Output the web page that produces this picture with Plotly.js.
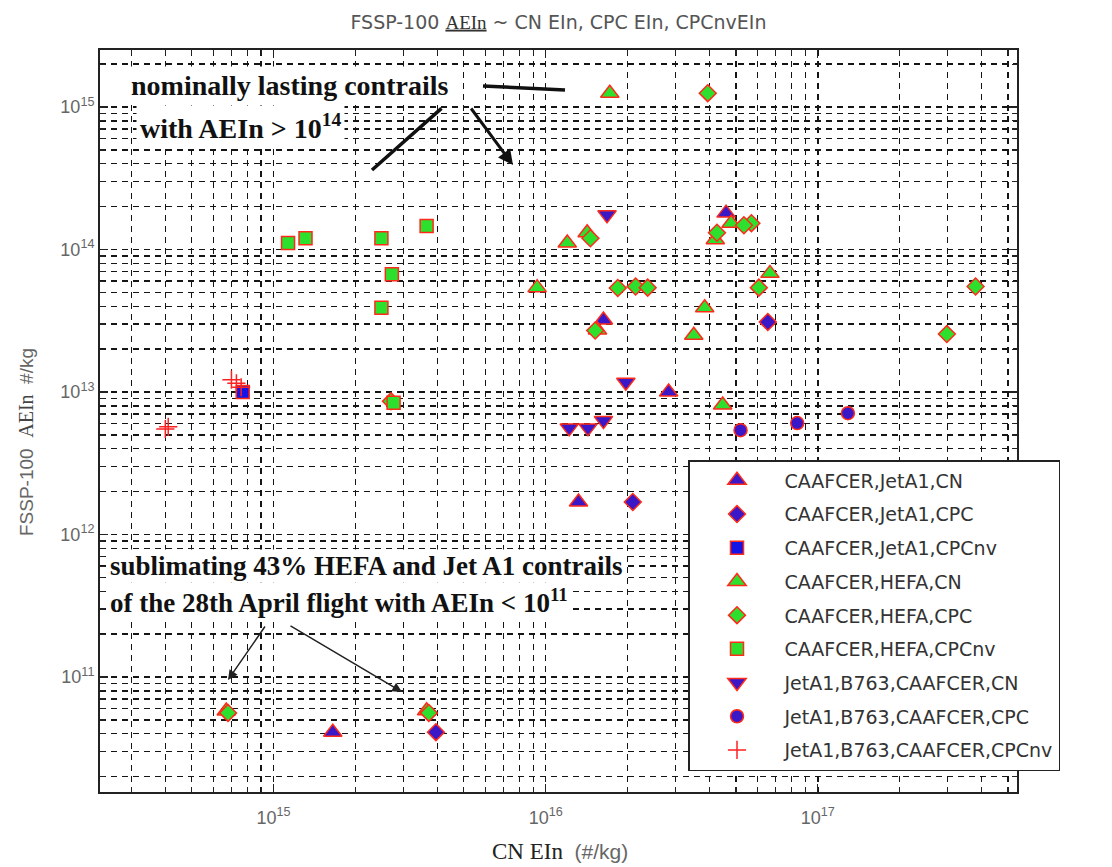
<!DOCTYPE html>
<html>
<head>
<meta charset="utf-8">
<script src="https://cdn.plot.ly/plotly-3.0.1.min.js"></script>
<style>html,body{margin:0;padding:0;background:#fff;}#chart{width:1112px;height:867px;}</style>
</head>
<body>
<div id="chart"></div>
<script>
// ---- data ----
const seriesNames = [
  'CAAFCER,JetA1,CN', 'CAAFCER,JetA1,CPC', 'CAAFCER,JetA1,CPCnv',
  'CAAFCER,HEFA,CN', 'CAAFCER,HEFA,CPC', 'CAAFCER,HEFA,CPCnv',
  'JetA1,B763,CAAFCER,CN', 'JetA1,B763,CAAFCER,CPC', 'JetA1,B763,CAAFCER,CPCnv'
];
const jetCN_x   = [1.63e16, 4.6e16, 2.83e16, 1.32e16, 1.65e15];
const jetCN_y   = [3.2e13, 1.8e14, 1.0e13, 1.69e12, 4.1e10];
const jetCPC_x  = [6.55e16, 2.09e16, 3.95e15];
const jetCPC_y  = [3.1e13, 1.69e12, 4.1e10];
const jetCPCnv_x = [7.7e14];
const jetCPCnv_y = [1.0e13];
const hefaCN_x  = [1.72e16, 1.2e16, 1.42e16, 9.3e15, 3.84e16, 4.8e16, 4.2e16, 1.55e16, 3.5e16, 4.47e16, 6.67e16, 6.7e14, 3.65e15];
const hefaCN_y  = [1.25e15, 1.11e14, 1.31e14, 5.4e13, 3.9e13, 1.53e14, 1.17e14, 2.72e13, 2.5e13, 8.1e12, 6.8e13, 5.77e10, 5.8e10];
const hefaCPC_x = [3.94e16, 1.46e16, 4.26e16, 5.7e16, 5.35e16, 1.84e16, 2.14e16, 2.37e16, 6.07e16, 3.8e17, 2.98e17, 1.52e16, 2.7e15, 6.8e14, 3.72e15];
const hefaCPC_y = [1.25e15, 1.2e14, 1.31e14, 1.53e14, 1.48e14, 5.37e13, 5.5e13, 5.4e13, 5.4e13, 5.5e13, 2.55e13, 2.7e13, 8.6e12, 5.6e10, 5.6e10];
const hefaCPCnv_x = [1.13e15, 1.31e15, 2.49e15, 3.65e15, 2.72e15, 2.49e15, 2.76e15];
const hefaCPCnv_y = [1.11e14, 1.2e14, 1.2e14, 1.46e14, 6.7e13, 3.9e13, 8.4e12];
const b763CN_x  = [1.68e16, 1.97e16, 1.22e16, 1.43e16, 1.63e16];
const b763CN_y  = [1.75e14, 1.17e13, 5.6e12, 5.6e12, 6.3e12];
const b763CPC_x = [5.2e16, 8.4e16, 1.29e17];
const b763CPC_y = [5.4e12, 6.05e12, 7.1e12];
const b763CPCnv_x = [4.0e14, 4.1e14, 7.0e14, 7.3e14, 7.6e14];
const b763CPCnv_y = [5.5e12, 5.7e12, 1.22e13, 1.15e13, 1.08e13];

const xMajorVals = [1e15, 1e16, 1e17];
const xMajorText = ['10<sup>15</sup>', '10<sup>16</sup>', '10<sup>17</sup>'];
const yMajorVals = [1e11, 1e12, 1e13, 1e14, 1e15];
const yMajorText = ['10<sup>11</sup>', '10<sup>12</sup>', '10<sup>13</sup>', '10<sup>14</sup>', '10<sup>15</sup>'];

// ---- styles ----
const BLUE = '#3a18c8', SQBLUE = '#1414e6', GREEN = '#2ee02e', EDGE = '#ff2a1a';
function tr(i, xs, ys, symbol, fill, size) {
  return {
    type: 'scatter', mode: 'markers', name: seriesNames[i], x: xs, y: ys,
    legendgroup: 'g' + i,
    marker: { symbol: symbol, color: fill, size: size, line: { color: EDGE, width: 1.5 } }
  };
}
const traces = [
  tr(0, jetCN_x, jetCN_y, 'triangle-up', BLUE, 16),
  tr(1, jetCPC_x, jetCPC_y, 'diamond', BLUE, 13),
  tr(2, jetCPCnv_x, jetCPCnv_y, 'square', SQBLUE, 13),
  tr(3, hefaCN_x, hefaCN_y, 'triangle-up', GREEN, 16),
  tr(4, hefaCPC_x, hefaCPC_y, 'diamond', GREEN, 13),
  tr(5, hefaCPCnv_x, hefaCPCnv_y, 'square', GREEN, 13),
  tr(6, b763CN_x, b763CN_y, 'triangle-down', BLUE, 16),
  tr(7, b763CPC_x, b763CPC_y, 'circle', BLUE, 13),
  {
    type: 'scatter', mode: 'markers', name: seriesNames[8], x: b763CPCnv_x, y: b763CPCnv_y,
    legendgroup: 'g8',
    marker: { symbol: 'cross-thin-open', size: 13, color: '#ff2020', line: { color: '#ff2020', width: 1.5 } }
  }
];

// minor tick positions (2..9 x 10^n) for the dashed minor grid
function minorLogTicks(lo, hi) {
  const vals = [];
  for (let e = lo; e <= hi; e++) {
    for (let m = 2; m <= 9; m++) vals.push(m * Math.pow(10, e));
  }
  return vals;
}

const SERIF = 'Liberation Serif, Times New Roman, serif';
const SANS = 'Liberation Sans, Arial, sans-serif';
const GRIDC = '#151515', DASH = '6px,5px';

function axis(vals, text, minorVals, range) {
  return {
    type: 'log', range: range, tickmode: 'array', tickvals: vals, ticktext: text,
    showgrid: true, gridcolor: GRIDC, gridwidth: 1.4, griddash: DASH,
    ticks: 'inside', ticklen: 8, tickwidth: 1.3, tickcolor: '#222',
    minor: { tickmode: 'array', tickvals: minorVals, ticks: 'inside', ticklen: 5, tickwidth: 1.2, tickcolor: '#222',
             showgrid: true, gridcolor: GRIDC, gridwidth: 1.4, griddash: DASH },
    showline: true, linecolor: '#222', linewidth: 2, mirror: 'allticks',
    zeroline: false,
    tickfont: { family: SANS, size: 18, color: '#666' }
  };
}

const xaxis = axis(xMajorVals, xMajorText, minorLogTicks(14, 17), [14.362, 17.732]);
xaxis.ticklabelstandoff = 8;
const yaxis = axis(yMajorVals, yMajorText, minorLogTicks(10, 15), [10.193, 15.40]);

const W = 917, H = 742, L = 100, T = 50;
function px(xp) { return (xp - L) / W; }
function py(yp) { return (T + H - yp) / H; }

const annotations = [
  { xref: 'paper', yref: 'paper', x: px(127), y: py(86), xanchor: 'left', yanchor: 'middle', showarrow: false,
    text: '<b>nominally lasting contrails</b>', font: { family: SERIF, size: 28, color: '#111' }, bgcolor: '#fff', borderpad: 3 },
  { xref: 'paper', yref: 'paper', x: px(136), y: py(126), xanchor: 'left', yanchor: 'middle', showarrow: false,
    text: '<b>with AEIn &gt; 10<sup>14</sup></b>', font: { family: SERIF, size: 28, color: '#111' }, bgcolor: '#fff', borderpad: 3 },
  { xref: 'paper', yref: 'paper', x: px(108), y: py(566), xanchor: 'left', yanchor: 'middle', showarrow: false,
    text: '<b>sublimating 43% HEFA and Jet A1 contrails</b>', font: { family: SERIF, size: 27, color: '#111' }, bgcolor: '#fff', borderpad: 1 },
  { xref: 'paper', yref: 'paper', x: px(108), y: py(601), xanchor: 'left', yanchor: 'middle', showarrow: false,
    text: '<b>of the 28th April flight with AEIn &lt; 10<sup>11</sup></b>', font: { family: SERIF, size: 27, color: '#111' }, bgcolor: '#fff', borderpad: 1 },
  // axis titles
  { xref: 'paper', yref: 'paper', x: px(560), y: py(851), xanchor: 'center', yanchor: 'middle', showarrow: false,
    text: '<span style="font-family:Liberation Serif, Times New Roman, serif;color:#222;font-size:23px">CN EIn</span>  (#/kg)',
    font: { family: SANS, size: 21, color: '#666' } },
  { xref: 'paper', yref: 'paper', x: px(26), y: py(442), xanchor: 'center', yanchor: 'middle', showarrow: false, textangle: -90,
    text: 'FSSP-100  <span style="font-family:Liberation Serif, Times New Roman, serif;color:#444;font-size:20px">AEIn</span>  #/kg',
    font: { family: SANS, size: 19, color: '#666' } },
  // arrows
  { xref: 'paper', yref: 'paper', x: px(372), y: py(170), ax: 71, ay: -63, text: '', showarrow: true, arrowhead: 0, arrowwidth: 3.5, arrowcolor: '#111', standoff: 0, startstandoff: 0 },
  { xref: 'paper', yref: 'paper', x: px(513), y: py(165), ax: -43, ay: -58, text: '', showarrow: true, arrowhead: 2, arrowsize: 1, arrowwidth: 3, arrowcolor: '#111', standoff: 0, startstandoff: 0 },
  { xref: 'paper', yref: 'paper', x: px(228), y: py(680), ax: 38, ay: -55, text: '', showarrow: true, arrowhead: 2, arrowsize: 1.3, arrowwidth: 1.5, arrowcolor: '#222', standoff: 0, startstandoff: 0 },
  { xref: 'paper', yref: 'paper', x: px(402), y: py(692), ax: -113, ay: -67, text: '', showarrow: true, arrowhead: 2, arrowsize: 1.3, arrowwidth: 1.5, arrowcolor: '#222', standoff: 0, startstandoff: 0 }
];

const shapes = [
  { type: 'line', xref: 'paper', yref: 'paper', x0: px(483), y0: py(86), x1: px(565), y1: py(90), line: { color: '#111', width: 3.5 } }
];

const layout = {
  width: 1112, height: 867,
  margin: { l: L, r: 1112 - L - W, t: T, b: 867 - T - H, pad: 0 },
  paper_bgcolor: '#fff', plot_bgcolor: '#fff',
  title: { text: 'FSSP-100 <span style="font-family:Liberation Serif, Times New Roman, serif;color:#333;text-decoration:underline">AEIn</span> ~ CN EIn, CPC EIn, CPCnvEIn',
           font: { family: 'DejaVu Sans, sans-serif', size: 19, color: '#555' },
           x: 0.5, xref: 'paper', xanchor: 'center', y: 1 - 22 / 867, yref: 'container', yanchor: 'middle' },
  xaxis: xaxis, yaxis: yaxis,
  showlegend: true,
  legend: {
    x: px(688), y: py(460), xanchor: 'left', yanchor: 'top',
    bgcolor: '#fff', bordercolor: '#222', borderwidth: 1.5,
    font: { family: 'DejaVu Sans, sans-serif', size: 19, color: '#333' },
    traceorder: 'grouped', tracegroupgap: 6, itemwidth: 85
  },
  annotations: annotations,
  shapes: shapes
};

Plotly.newPlot('chart', traces, layout, { displayModeBar: false, staticPlot: true });
</script>
</body>
</html>
